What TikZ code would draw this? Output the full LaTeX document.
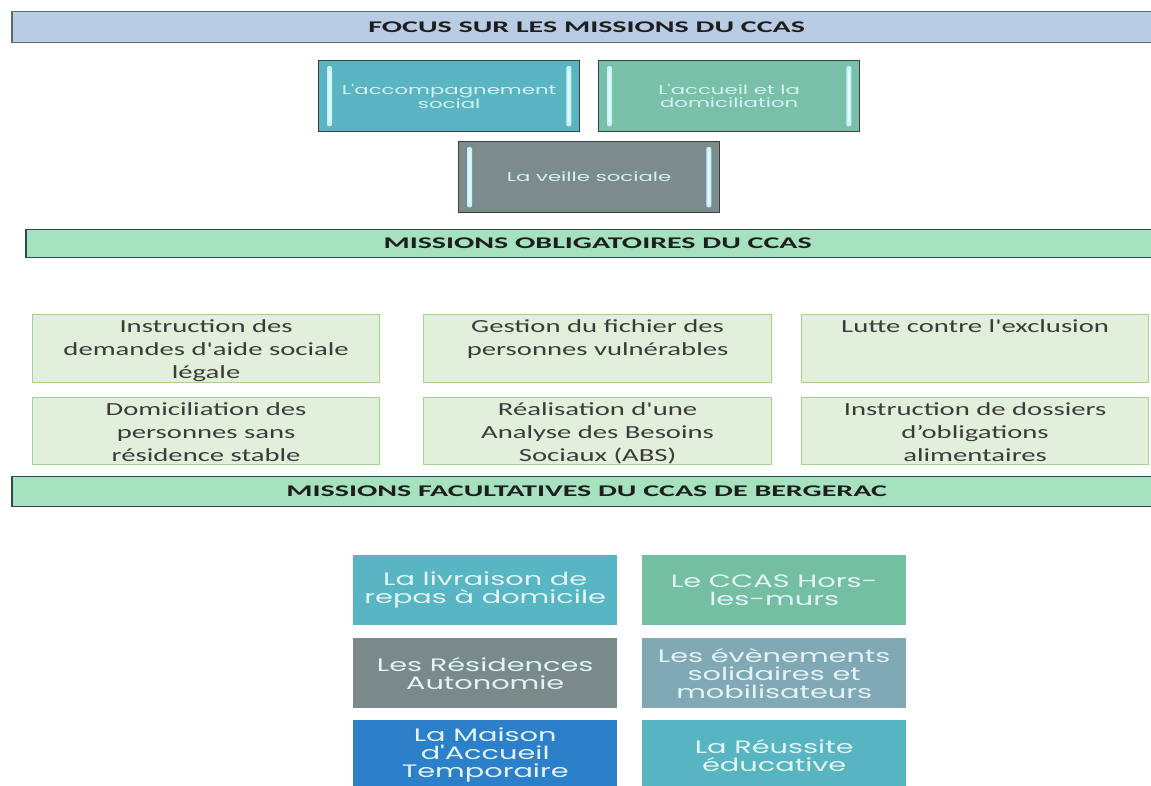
\documentclass[tikz,border=0pt]{standalone}
\usepackage{fontspec}
\usetikzlibrary{calc}
\newfontfamily\calfont[FakeStretch=1.55]{Carlito}
\newfontfamily\headfont[FakeStretch=1.84]{Carlito}
\newfontfamily\gothfont[FakeStretch=1.6]{Poppins}
\newfontfamily\smallgoth[FakeStretch=1.66]{Poppins}
\definecolor{bandblue}{HTML}{B8CCE4}
\definecolor{bandblueline}{HTML}{5B6B7C}
\definecolor{bandgreen}{HTML}{A6E1C0}
\definecolor{bandgreenline}{HTML}{2E4B4F}
\definecolor{headtext}{HTML}{1E1E1E}
\definecolor{tealA}{HTML}{5AB4C2}
\definecolor{greenA}{HTML}{78C0A8}
\definecolor{grayA}{HTML}{7C8C8D}
\definecolor{boxedge}{HTML}{3A3F40}
\definecolor{barlight}{HTML}{C4F4F7}
\definecolor{toptext}{HTML}{D6F1F3}
\definecolor{gridfill}{HTML}{E2EFDA}
\definecolor{gridline}{HTML}{A9D18E}
\definecolor{gridtext}{HTML}{3B3B3B}
\definecolor{bA}{HTML}{58B5C3}
\definecolor{bB}{HTML}{74BFA2}
\definecolor{bC}{HTML}{7A8A8B}
\definecolor{bD}{HTML}{80A9B5}
\definecolor{bE}{HTML}{2B80C9}
\definecolor{bF}{HTML}{57B5C2}
\definecolor{bottext}{HTML}{E3F4F6}
\tikzset{
  band/.style={anchor=north west, inner sep=0pt, line width=1.3pt,
    font=\headfont\bfseries\fontsize{16.3}{20}\selectfont, text=headtext},
  topbox/.style={anchor=north west, draw=boxedge, line width=1.3pt, inner sep=0pt,
    minimum width=261pt, minimum height=71pt, align=center, text=toptext,
    font=\smallgoth\fontsize{12.8}{13}\selectfont},
  topbar/.style={fill=barlight, rounded corners=2pt},
  gridbox/.style={anchor=north west, draw=gridline, fill=gridfill, line width=1.2pt,
    inner sep=0pt, text=gridtext, font=\calfont\fontsize{18.5}{23}\selectfont},
  botbox/.style={anchor=north west, inner sep=0pt, minimum width=264pt,
    minimum height=70pt, align=center, text=bottext,
    font=\gothfont\fontsize{18}{18}\selectfont},
}
\begin{document}
\begin{tikzpicture}[x=1pt,y=-1pt]
\useasboundingbox (0,0) rectangle (1151,785);
\fill[white] (0,0) rectangle (1151,785);
% bands
\node[band, draw=bandblueline, fill=bandblue, minimum width=1148pt, minimum height=31pt] (h1) at (12,11) {FOCUS SUR LES MISSIONS DU CCAS};
\draw[bandblueline, line width=2.5pt] (h1.north west) -- (h1.south west);
\node[band, draw=bandgreenline, fill=bandgreen, minimum width=1142pt, minimum height=28pt] (h2) at (26,229) {MISSIONS OBLIGATOIRES DU CCAS};
\draw[bandgreenline, line width=2.5pt] (h2.north west) -- (h2.south west);
\node[band, draw=bandgreenline, fill=bandgreen, minimum width=1148pt, minimum height=30pt] (h3) at (12,476) {MISSIONS FACULTATIVES DU CCAS DE BERGERAC};
\draw[bandgreenline, line width=2.5pt] (h3.north west) -- (h3.south west);
% top boxes
\node[topbox, fill=tealA] (t1) at (318,60) {L'accompagnement\\social};
\node[topbox, fill=greenA] (t2) at (598,60) {L'accueil et la\\domiciliation};
\node[topbox, fill=grayA] (t3) at (458,141) {La veille sociale};
\foreach \b in {t1,t2,t3}{
  \fill[topbar] ($(\b.north west)+(9,6)$) rectangle ($(\b.south west)+(14,-6)$);
  \fill[topbar] ($(\b.north east)+(-14,6)$) rectangle ($(\b.south east)+(-9,-6)$);
  \fill[white, opacity=0.6, rounded corners=1pt] ($(\b.north west)+(10.5,10)$) rectangle ($(\b.south west)+(12.5,-10)$);
  \fill[white, opacity=0.6, rounded corners=1pt] ($(\b.north east)+(-12.5,10)$) rectangle ($(\b.south east)+(-10.5,-10)$);
}
% obligatory missions
\node[gridbox] (o1) at (32,314) {\parbox[c][68pt][t]{347pt}{\centering\vspace{5pt}Instruction des\\demandes d'aide sociale\\légale}};
\node[gridbox] (o2) at (423,314) {\parbox[c][68pt][t]{348pt}{\centering\vspace{5pt}Gestion du fichier des\\personnes vulnérables}};
\node[gridbox] (o3) at (801,314) {\parbox[c][68pt][t]{347pt}{\centering\vspace{5pt}Lutte contre l'exclusion}};
\node[gridbox] (o4) at (32,397) {\parbox[c][67pt][t]{347pt}{\centering\vspace{5pt}Domiciliation des\\personnes sans\\résidence stable}};
\node[gridbox] (o5) at (423,397) {\parbox[c][67pt][t]{348pt}{\centering\vspace{5pt}Réalisation d'une\\Analyse des Besoins\\Sociaux (ABS)}};
\node[gridbox] (o6) at (801,397) {\parbox[c][67pt][t]{347pt}{\centering\vspace{5pt}Instruction de dossiers\\d’obligations\\alimentaires}};
% optional missions
\node[botbox, fill=bA] (f1) at (353,555) {La livraison de\\repas à domicile};
\node[botbox, fill=bB] (f2) at (642,555) {Le CCAS Hors-\\les-murs};
\node[botbox, fill=bC] (f3) at (353,638) {Les Résidences\\Autonomie};
\node[botbox, fill=bD] (f4) at (642,638) {Les évènements\\solidaires et\\mobilisateurs};
\node[botbox, fill=bE] (f5) at (353,720) {La Maison\\d'Accueil\\Temporaire};
\node[botbox, fill=bF] (f6) at (642,720) {La Réussite\\éducative};
\end{tikzpicture}
\end{document}
